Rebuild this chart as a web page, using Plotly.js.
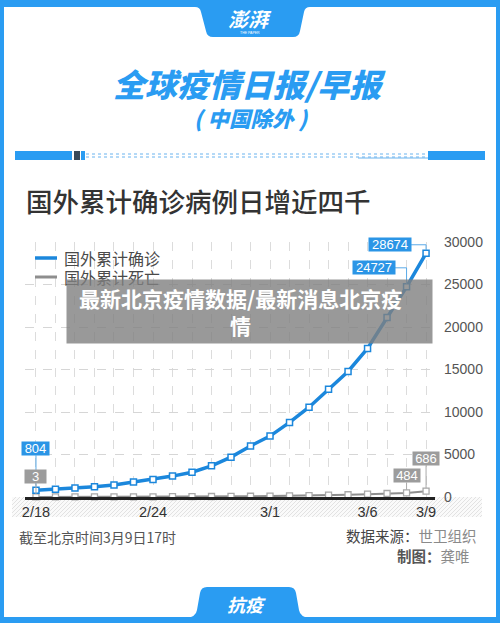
<!DOCTYPE html>
<html><head><meta charset="utf-8">
<script src="https://cdn.plot.ly/plotly-3.0.1.min.js"></script>
<style>html,body{margin:0;padding:0;background:#fff;}#chart{width:500px;height:623px;}</style>
</head><body><div id="chart"></div>
<script>
// ---------- data ----------
const dates = ['2020-02-18','2020-02-19','2020-02-20','2020-02-21','2020-02-22','2020-02-23','2020-02-24',
  '2020-02-25','2020-02-26','2020-02-27','2020-02-28','2020-02-29','2020-03-01','2020-03-02','2020-03-03',
  '2020-03-04','2020-03-05','2020-03-06','2020-03-07','2020-03-08','2020-03-09'];
const confirmed = [804, 924, 1073, 1200, 1402, 1769, 2069, 2459, 2918, 3664, 4691, 6009, 7169, 8774, 10566,
  12668, 14768, 17481, 21110, 24727, 28674];
const deaths = [3, 3, 8, 8, 11, 16, 23, 34, 44, 57, 67, 86, 104, 128, 166, 214, 267, 335, 413, 484, 686];
const seriesNames = ['国外累计确诊', '国外累计死亡'];
const tickDates = ['2020-02-18','2020-02-24','2020-03-01','2020-03-06','2020-03-09'];
const tickLabels = ['2/18','2/24','3/1','3/6','3/9'];
const yTickVals = [0, 5000, 10000, 15000, 20000, 25000, 30000];

// ---------- style ----------
const W = 500, H = 623, L = 25, R = 435, T = 242, B = 497;
const X = px => (px - L) / (R - L);
const Y = py => (B - py) / (B - T);
const P = (x, y) => X(x).toFixed(5) + ',' + Y(y).toFixed(5);
const BLUE = '#2a9cf2', LINE_BLUE = '#1b87dc', LBL_BLUE = '#2b95e6', GRAY_LINE = '#8e8e8e', GRAY_BOX = '#9c9c9c';
const CJK = '"Noto Sans CJK SC", "Noto Sans", sans-serif';
const NUM = '"Liberation Sans", Arial, sans-serif';

const allTickText = dates.map(d => { const i = tickDates.indexOf(d); return i >= 0 ? tickLabels[i] : ''; });

const traces = [
  { x: dates, y: deaths, name: seriesNames[1], type: 'scatter', mode: 'lines+markers', cliponaxis: false,
    line: { color: GRAY_LINE, width: 2 },
    marker: { symbol: 'square', size: 6, color: '#fff', line: { color: '#a8a8a8', width: 1.3 } } },
  { x: dates, y: confirmed, name: seriesNames[0], type: 'scatter', mode: 'lines+markers', cliponaxis: false,
    line: { color: LINE_BLUE, width: 3.5 },
    marker: { symbol: 'square', size: 6, color: '#fff', line: { color: LINE_BLUE, width: 1.5 } } }
];

const shapes = [];
const annotations = [];

// hatched band under the axis
shapes.push({ type: 'rect', xref: 'paper', yref: 'paper', x0: X(12), x1: X(482), y0: Y(517), y1: Y(497),
  fillcolor: '#fafafa', line: { width: 0 }, layer: 'below' });
for (let s = 12; s <= 482 + 20; s += 4) {
  const t0 = Math.max(0, s - 482), t1 = Math.min(20, s - 12);
  if (t0 < t1) shapes.push({ type: 'line', xref: 'paper', yref: 'paper', layer: 'below',
    x0: X(s - t0), y0: Y(497 + t0), x1: X(s - t1), y1: Y(497 + t1), line: { color: '#e2e2e2', width: 1 } });
}

// frame
shapes.push({ type: 'rect', xref: 'paper', yref: 'paper', x0: X(0), x1: X(4), y0: Y(623), y1: Y(0), fillcolor: BLUE, line: { width: 0 } });
shapes.push({ type: 'rect', xref: 'paper', yref: 'paper', x0: X(496), x1: X(500), y0: Y(623), y1: Y(0), fillcolor: BLUE, line: { width: 0 } });
shapes.push({ type: 'rect', xref: 'paper', yref: 'paper', x0: X(0), x1: X(500), y0: Y(7), y1: Y(0), fillcolor: BLUE, line: { width: 0 } });
shapes.push({ type: 'rect', xref: 'paper', yref: 'paper', x0: X(0), x1: X(500), y0: Y(623), y1: Y(617), fillcolor: BLUE, line: { width: 0 } });
// top tab
shapes.push({ type: 'path', xref: 'paper', yref: 'paper', fillcolor: BLUE, line: { width: 0 },
  path: 'M' + P(190, 0) + ' L' + P(310, 0) + ' L' + P(310, 7) + ' Q' + P(305, 7) + ' ' + P(304, 12) +
    ' L' + P(300, 31) + ' Q' + P(299, 37) + ' ' + P(293, 37) + ' L' + P(213, 37) + ' Q' + P(207, 37) + ' ' + P(206, 31) +
    ' L' + P(201, 12) + ' Q' + P(200, 7) + ' ' + P(195, 7) + ' L' + P(190, 7) + ' Z' });
// bottom tab
shapes.push({ type: 'path', xref: 'paper', yref: 'paper', fillcolor: BLUE, line: { width: 0 },
  path: 'M' + P(186, 618) + ' Q' + P(196, 617) + ' ' + P(197, 610) + ' L' + P(200, 593) + ' Q' + P(201, 587) + ' ' + P(207, 587) +
    ' L' + P(289, 587) + ' Q' + P(295, 587) + ' ' + P(296, 593) + ' L' + P(299, 610) + ' Q' + P(300, 617) + ' ' + P(310, 618) + ' Z' });

// decorative divider
shapes.push({ type: 'rect', xref: 'paper', yref: 'paper', x0: X(15), x1: X(72), y0: Y(160), y1: Y(151), fillcolor: BLUE, line: { width: 0 } });
shapes.push({ type: 'rect', xref: 'paper', yref: 'paper', x0: X(74), x1: X(80), y0: Y(160), y1: Y(151), fillcolor: '#3a4a5a', line: { width: 0 } });
shapes.push({ type: 'rect', xref: 'paper', yref: 'paper', x0: X(81), x1: X(85), y0: Y(160), y1: Y(151), fillcolor: BLUE, line: { width: 0 } });
shapes.push({ type: 'line', xref: 'paper', yref: 'paper', x0: X(86), x1: X(428), y0: Y(154), y1: Y(154), line: { color: '#6ab3ee', width: 1, dash: 'dot' } });
shapes.push({ type: 'line', xref: 'paper', yref: 'paper', x0: X(86), x1: X(428), y0: Y(157), y1: Y(157), line: { color: '#6ab3ee', width: 1, dash: 'dot' } });
shapes.push({ type: 'line', xref: 'paper', yref: 'paper', x0: X(358), x1: X(428), y0: Y(158), y1: Y(158), line: { color: '#6ab3ee', width: 1 } });
shapes.push({ type: 'rect', xref: 'paper', yref: 'paper', x0: X(428), x1: X(485), y0: Y(160), y1: Y(151), fillcolor: BLUE, line: { width: 0 } });

// custom legend lines
shapes.push({ type: 'line', xref: 'paper', yref: 'paper', x0: X(35), x1: X(57), y0: Y(258), y1: Y(258), line: { color: LINE_BLUE, width: 3.5 } });
shapes.push({ type: 'line', xref: 'paper', yref: 'paper', x0: X(35), x1: X(57), y0: Y(277), y1: Y(277), line: { color: GRAY_LINE, width: 3 } });

// elbow connectors for the last two confirmed labels
shapes.push({ type: 'path', xref: 'x', yref: 'y', xsizemode: 'pixel', ysizemode: 'pixel',
  xanchor: dates[19], yanchor: confirmed[19], path: 'M0,3 L0,19 L-12,19', line: { color: '#5aaae8', width: 1 } });
shapes.push({ type: 'path', xref: 'x', yref: 'y', xsizemode: 'pixel', ysizemode: 'pixel',
  xanchor: dates[20], yanchor: confirmed[20], path: 'M0,3 L0,8.5 L-15,8.5', line: { color: '#5aaae8', width: 1 } });

// value labels
function arrowLabel(xv, yv, text, bg, w, ay, col) {
  annotations.push({ x: xv, y: yv, xref: 'x', yref: 'y', text: String(text), showarrow: true, ax: 0, ay: ay,
    arrowhead: 0, arrowwidth: 1, arrowcolor: col, bgcolor: bg, width: w, height: 13, borderpad: 0, standoff: 3,
    font: { family: NUM, size: 13, color: '#fff' } });
}
function shiftLabel(xv, yv, text, bg, w, dx, dy) {
  annotations.push({ x: xv, y: yv, xref: 'x', yref: 'y', text: String(text), showarrow: false, xshift: dx, yshift: dy,
    xanchor: 'center', yanchor: 'middle',
    bgcolor: bg, width: w, height: 13, borderpad: 0, font: { family: NUM, size: 13, color: '#fff' } });
}
arrowLabel(dates[0], confirmed[0], confirmed[0], LBL_BLUE, 27, -42, '#5aaae8');
arrowLabel(dates[0], deaths[0], deaths[0], GRAY_BOX, 21, -20, '#aaaaaa');
arrowLabel(dates[19], deaths[19], deaths[19], GRAY_BOX, 26, -17, '#aaaaaa');
arrowLabel(dates[20], deaths[20], deaths[20], GRAY_BOX, 26, -33, '#aaaaaa');
shiftLabel(dates[19], confirmed[19], confirmed[19], LBL_BLUE, 42, -33, 19);
shiftLabel(dates[20], confirmed[20], confirmed[20], LBL_BLUE, 42, -36, 8.5);

// text blocks
function txt(px, py, text, size, color, opts) {
  annotations.push(Object.assign({ x: X(px), y: Y(py), xref: 'paper', yref: 'paper', text: text, showarrow: false,
    xanchor: 'center', yanchor: 'middle', font: { family: CJK, size: size, color: color } }, opts || {}));
}
txt(250, 18, '澎湃', 20, '#fff', { font: { family: CJK, size: 20, color: '#fff', weight: 700, style: 'italic' } });
txt(250, 33, 'THE PAPER', 3.5, '#fff', { font: { family: NUM, size: 3.5, color: '#fff' } });
txt(249, 83, '全球疫情日报/早报', 32, BLUE, { font: { family: CJK, size: 32, color: BLUE, weight: 900, style: 'italic' } });
txt(251, 118, '( 中国除外 )', 21.5, BLUE, { font: { family: CJK, size: 21.5, color: BLUE, weight: 900, style: 'italic' } });
txt(24, 201, '国外累计确诊病例日增近四千', 26.5, '#333', { xanchor: 'left', font: { family: CJK, size: 26.5, color: '#333', weight: 500 } });
txt(62, 258, seriesNames[0], 16, '#4a4a4a', { xanchor: 'left' });
txt(62, 277, seriesNames[1], 16, '#4a4a4a', { xanchor: 'left' });
txt(17, 537, '截至北京时间3月9日17时', 14, '#555', { xanchor: 'left' });
txt(479, 535, '数据来源：<span style="color:#8a8a8a">世卫组织</span>', 14.5, '#444', { xanchor: 'right' });
txt(472, 555, '<b>制图：</b><span style="color:#8a8a8a">龚唯</span>', 14.5, '#555', { xanchor: 'right' });
txt(246, 604, '抗疫', 18, '#fff', { font: { family: CJK, size: 18, color: '#fff', weight: 700, style: 'italic' } });

// overlay banner (drawn last, covers what is below)
annotations.push({ x: X(249.5), y: Y(311.5), xref: 'paper', yref: 'paper', text: ' ', showarrow: false,
  xanchor: 'center', yanchor: 'middle',
  width: 365, height: 63, borderpad: 0, bgcolor: 'rgba(128,128,128,0.8)', font: { size: 10 } });
txt(240, 311.5, '最新北京疫情数据/最新消息北京疫<br>情', 21, '#fff',
  { font: { family: CJK, size: 21, color: '#fff', weight: 700 } });

const layout = {
  width: W, height: H,
  margin: { l: L, r: W - R, t: T, b: H - B, pad: 0 },
  paper_bgcolor: '#fff', plot_bgcolor: '#fff',
  showlegend: false,
  xaxis: {
    type: 'date', range: ['2020-02-17 10:30', '2020-03-09 11:00'],
    tickmode: 'array', tickvals: dates, ticktext: allTickText,
    showgrid: true, gridcolor: '#dcdcdc', griddash: 'dash', gridwidth: 1,
    showline: true, linecolor: '#222', linewidth: 2.5,
    ticks: '', ticklabelstandoff: 0, zeroline: false,
    tickfont: { family: NUM, size: 14.5, color: '#333' }
  },
  yaxis: {
    side: 'right', range: [0, 30000], tickmode: 'array', tickvals: yTickVals,
    ticktext: yTickVals.map(v => String(v)),
    showgrid: true, gridcolor: '#d6d6d6', griddash: 'dash', gridwidth: 1,
    zeroline: false, showline: false, ticks: '', ticklabelstandoff: 8,
    tickfont: { family: NUM, size: 14, color: '#555' }
  },
  shapes: shapes,
  annotations: annotations
};

Plotly.newPlot('chart', traces, layout, { staticPlot: true, displayModeBar: false });
</script>
</body></html>
